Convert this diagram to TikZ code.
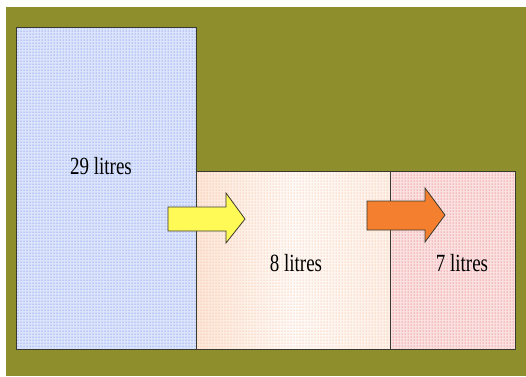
\documentclass[tikz,border=0pt]{standalone}
\usepackage{fontspec}
\setmainfont{Liberation Serif}
\usetikzlibrary{patterns,shadows}
\definecolor{olive}{HTML}{8F8E2C}
\definecolor{bluefill}{HTML}{DCE4FB}
\definecolor{bluedot}{HTML}{3F68E8}
\definecolor{peachfill}{HTML}{FCE6D8}
\definecolor{peachdot}{HTML}{F2A070}
\definecolor{redfill}{HTML}{FAE0E0}
\definecolor{reddot}{HTML}{E04848}
\definecolor{edge}{HTML}{3A3A30}
\definecolor{yellowarrow}{HTML}{FFFA55}
\definecolor{orangearrow}{HTML}{F47F2E}
\newcommand{\tallfont}[1]{\scalebox{1}[1.3]{\fontsize{19}{19}\selectfont #1}}
\tikzset{
  box/.style={draw=edge, line width=1pt, drop shadow={shadow xshift=1pt, shadow yshift=-1pt, opacity=0.5}},
  arrowshape/.style={draw=edge, line width=0.8pt, line join=miter},
  lbl/.style={text=black, inner sep=0pt}
}
\begin{document}
\begin{tikzpicture}[x=1pt,y=1pt]
\useasboundingbox (0,0) rectangle (526,376);
\fill[white] (0,0) rectangle (526,376);
\fill[olive] (6,0) rectangle (526,369);
% boxes
\path[box, fill=bluefill] (16,27) rectangle (196,349);
\fill[pattern=dots, pattern color=bluedot] (16,27) rectangle (196,349);
\path[box, left color=peachfill, right color=peachfill!60!white, middle color=white!80!peachfill] (196,27) rectangle (390,205);
\fill[pattern=dots, pattern color=peachdot] (196,27) rectangle (390,205);
\path[box, fill=redfill] (390,27) rectangle (515,205);
\fill[pattern=dots, pattern color=reddot] (390,27) rectangle (515,205);
\draw[edge, line width=1pt] (16,27) rectangle (196,349);
\draw[edge, line width=1pt] (196,27) rectangle (390,205);
\draw[edge, line width=1pt] (390,27) rectangle (515,205);
% labels
\node[lbl] (a) at (101,210) {\tallfont{29 litres}};
\node[lbl] (b) at (296,113) {\tallfont{8 litres}};
\node[lbl] (c) at (462,113) {\tallfont{7 litres}};
% arrows
\draw[arrowshape, fill=yellowarrow] (168,145) -- (168,169) -- (226,169) -- (226,183) -- (245,157) -- (226,133) -- (226,145) -- cycle;
\draw[arrowshape, fill=orangearrow] (367,146) -- (367,175) -- (425,175) -- (425,188) -- (445,161) -- (425,134) -- (425,146) -- cycle;
\end{tikzpicture}
\end{document}
